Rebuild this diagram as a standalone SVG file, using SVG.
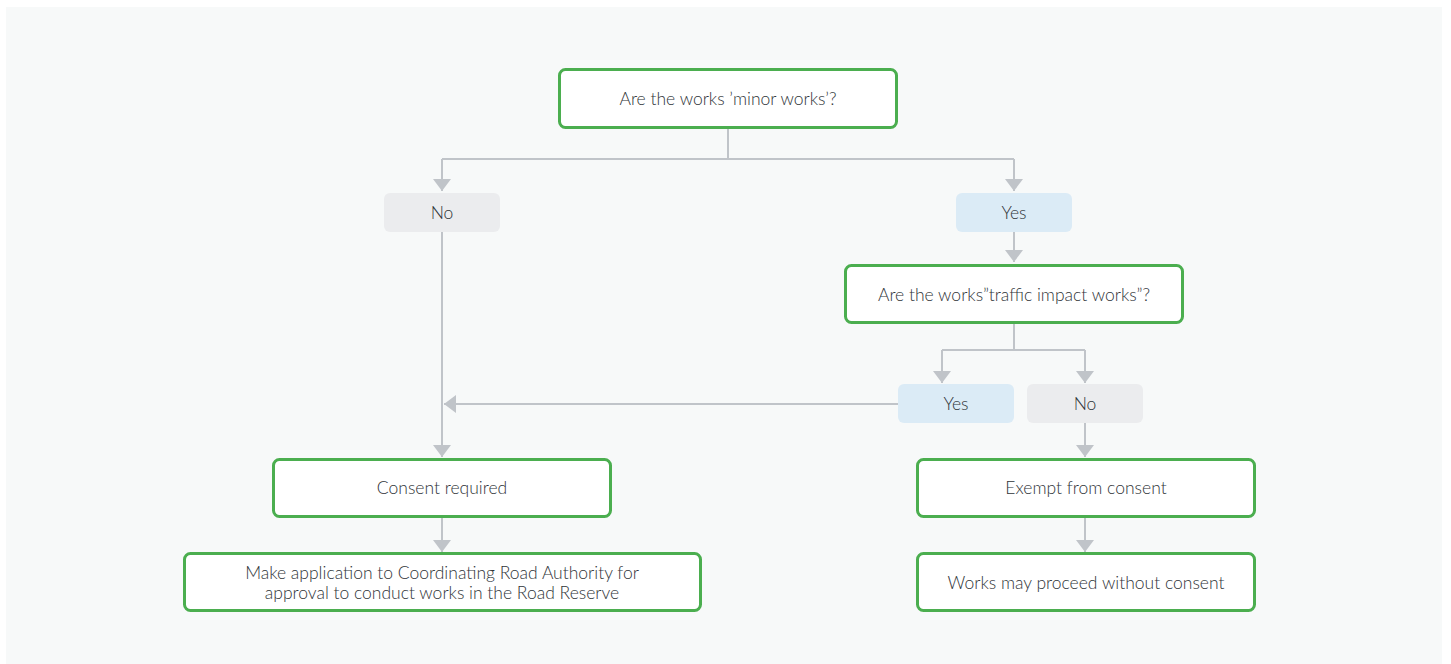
<svg xmlns="http://www.w3.org/2000/svg" width="1451" height="664" viewBox="0 0 1451 664">
<style>
.n rect{fill:#ffffff;stroke:#4bae4f;stroke-width:3}
.no rect{fill:#ebecee}
.yes rect{fill:#dbebf6}
text{font-family:Lato,"Noto Sans",sans-serif;font-size:17.5px;font-weight:300;fill:#2f3438;text-anchor:middle}
.c path{fill:none;stroke:#c0c4c9;stroke-width:2}
</style>
<defs>
<marker id="a" viewBox="0 0 12 18" refX="12" refY="9" markerWidth="12" markerHeight="18" markerUnits="userSpaceOnUse" orient="auto">
<path d="M0,0 L12,9 L0,18 Z" fill="#c0c4c9"/>
</marker>
</defs>
<rect x="6" y="7" width="1436" height="657" fill="#f7f9f9"/>
<g class="c">
<path d="M728,128 V159"/>
<path d="M442,159 H1014"/>
<path d="M442,159 V191" marker-end="url(#a)"/>
<path d="M1014,159 V191" marker-end="url(#a)"/>
<path d="M1014,232 V262" marker-end="url(#a)"/>
<path d="M1014,323 V350"/>
<path d="M942,350 H1085"/>
<path d="M942,350 V383" marker-end="url(#a)"/>
<path d="M1085,350 V383" marker-end="url(#a)"/>
<path d="M442,232 V457" marker-end="url(#a)"/>
<path d="M898,404 H444" marker-end="url(#a)"/>
<path d="M1085,423 V457" marker-end="url(#a)"/>
<path d="M442,517 V552" marker-end="url(#a)"/>
<path d="M1085,517 V552" marker-end="url(#a)"/>
</g>
<g id="q1" class="n"><rect x="559.5" y="69.5" width="337" height="58" rx="6"/><text x="728" y="105">Are the works ’minor works’?</text></g>
<g id="no1" class="no"><rect x="384" y="193" width="116" height="39" rx="6"/><text x="442" y="219">No</text></g>
<g id="yes1" class="yes"><rect x="956" y="193" width="116" height="39" rx="6"/><text x="1014" y="219">Yes</text></g>
<g id="q2" class="n"><rect x="845.5" y="265.5" width="337" height="57" rx="6"/><text x="1014" y="301">Are the works”traffic impact works”?</text></g>
<g id="yes2" class="yes"><rect x="898" y="384" width="116" height="39" rx="6"/><text x="956" y="410">Yes</text></g>
<g id="no2" class="no"><rect x="1027" y="384" width="116" height="39" rx="6"/><text x="1085" y="410">No</text></g>
<g id="consent" class="n"><rect x="273.5" y="459.5" width="337" height="57" rx="6"/><text x="442" y="494">Consent required</text></g>
<g id="apply" class="n"><rect x="184.5" y="553.5" width="516" height="57" rx="6"/><text x="442" y="579">Make application to Coordinating Road Authority for</text><text x="442" y="599">approval to conduct works in the Road Reserve</text></g>
<g id="exempt" class="n"><rect x="917.5" y="459.5" width="337" height="57" rx="6"/><text x="1086" y="494">Exempt from consent</text></g>
<g id="proceed" class="n"><rect x="917.5" y="553.5" width="337" height="57" rx="6"/><text x="1086" y="589">Works may proceed without consent</text></g>
</svg>
